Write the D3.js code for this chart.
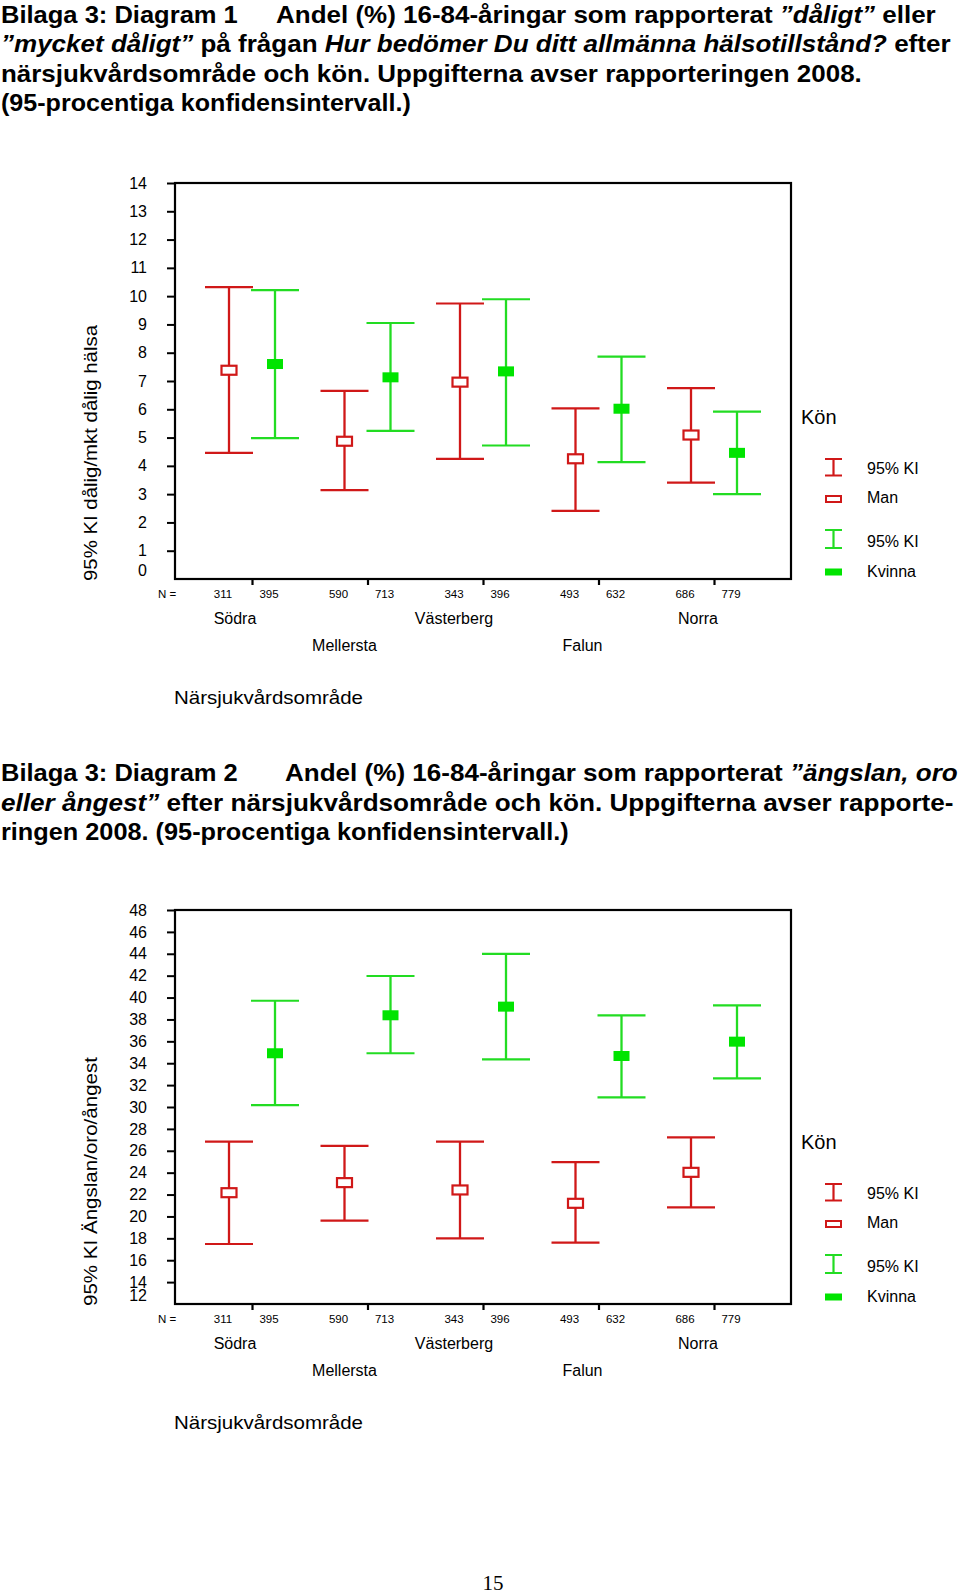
<!DOCTYPE html>
<html>
<head>
<meta charset="utf-8">
<script src="https://cdn.jsdelivr.net/npm/d3@7"></script>
<style>
  html, body { margin: 0; padding: 0; background: #fff; }
  svg { display: block; }
  text { font-family: "Liberation Sans", Arial, Helvetica, sans-serif; fill: #000; }
</style>
</head>
<body>
<script>
// ---------------- DATA ----------------
const regions = ["Södra", "Mellersta", "Västerberg", "Falun", "Norra"];
const nMan    = [311, 590, 343, 493, 686];
const nKvinna = [395, 713, 396, 632, 779];

// Diagram 1: andel dåligt/mycket dåligt hälsotillstånd (%)
const d1ManLow  = [4.46, 3.14, 4.25, 2.41, 3.41];
const d1ManMean = [7.38, 4.87, 6.96, 4.25, 5.09];
const d1ManHigh = [10.32, 6.65, 9.74, 6.03, 6.75];
const d1KvLow   = [4.98, 5.24, 4.72, 4.13, 3.00];
const d1KvMean  = [7.60, 7.13, 7.34, 6.02, 4.46];
const d1KvHigh  = [10.21, 9.05, 9.89, 7.86, 5.92];
const d1Ticks   = [0, 1, 2, 3, 4, 5, 6, 7, 8, 9, 10, 11, 12, 13, 14];

// Diagram 2: andel ängslan, oro eller ångest (%)
const d2ManLow  = [17.48, 19.61, 18.00, 17.60, 20.83];
const d2ManMean = [22.17, 23.09, 22.42, 21.20, 24.03];
const d2ManHigh = [26.83, 26.44, 26.83, 24.97, 27.23];
const d2KvLow   = [30.18, 34.91, 34.36, 30.88, 32.62];
const d2KvMean  = [34.91, 38.38, 39.17, 34.66, 35.97];
const d2KvHigh  = [39.71, 41.97, 44.00, 38.38, 39.29];
const d2Ticks   = [12, 14, 16, 18, 20, 22, 24, 26, 28, 30, 32, 34, 36, 38, 40, 42, 44, 46, 48];

const sexLabels = ["Man", "Kvinna"];
const legendTitle = "Kön";
const ciLabel = "95% KI";
const xTitle = "Närsjukvårdsområde";
const y1Title = "95% KI dålig/mkt dålig hälsa";
const y2Title = "95% KI Ängslan/oro/ångest";

// title texts: [text, italic]
const title1Head = "Bilaga 3: Diagram 1";
const title1Lines = [
  [["Andel (%) 16-84-åringar som rapporterat ", 0], ["”dåligt”", 1], [" eller", 0]],
  [["”mycket dåligt”", 1], [" på frågan ", 0], ["Hur bedömer Du ditt allmänna hälsotillstånd?", 1], [" efter", 0]],
  [["närsjukvårdsområde och kön. Uppgifterna avser rapporteringen 2008.", 0]],
  [["(95-procentiga konfidensintervall.)", 0]]
];
const title2Head = "Bilaga 3: Diagram 2";
const title2Lines = [
  [["Andel (%) 16-84-åringar som rapporterat ", 0], ["”ängslan, oro", 1]],
  [["eller ångest”", 1], [" efter närsjukvårdsområde och kön. Uppgifterna avser rapporte-", 0]],
  [["ringen 2008. (95-procentiga konfidensintervall.)", 0]]
];
const pageNumber = "15";

// ---------------- STYLE / LAYOUT ----------------
const RED = "#d01818";
const GREEN = "#22dc22";
const GREEN_FILL = "#00e400";
const regionLabelNudge = [6, 0, -6, 7, 7];   // small horizontal shifts of region names (px)

const svg = d3.select("body").append("svg").attr("width", 960).attr("height", 1594);

// fit a (possibly multi-tspan) text horizontally into target width
function fitGroup(g, x, target) {
  const w = g.node().getBBox().width;
  const y = +g.attr("data-y");
  g.attr("transform", `translate(${x},${y}) scale(${target / w},1)`);
}

function titleBlock(head, lines, layout) {
  const gh = svg.append("g").attr("data-y", layout.base[0]);
  gh.append("text").attr("x", 0).attr("y", 0)
    .style("font-size", "23.5px").style("font-weight", "bold").text(head);
  fitGroup(gh, layout.headX, layout.headW);
  lines.forEach((segs, i) => {
    const g = svg.append("g").attr("data-y", layout.base[i]);
    const t = g.append("text").attr("x", 0).attr("y", 0)
      .style("font-size", "23.5px").style("font-weight", "bold");
    segs.forEach(s => {
      t.append("tspan").style("font-style", s[1] ? "italic" : "normal").text(s[0]);
    });
    fitGroup(g, layout.x[i], layout.w[i]);
  });
}

titleBlock(title1Head, title1Lines, {
  headX: 1, headW: 237,
  base: [22.7, 52.2, 81.7, 111.2],
  x: [276, 1, 1, 1],
  w: [660, 950, 861, 410]
});
titleBlock(title2Head, title2Lines, {
  headX: 1, headW: 237,
  base: [781.3, 810.8, 840.3],
  x: [285, 1, 1],
  w: [673, 953, 568]
});

// ---------------- CHART ----------------
const plotLeft = 175, plotRight = 791;
const xMid = d3.scalePoint().domain(regions).range([252, 714]);
const sexOffset = d3.scalePoint().domain(sexLabels).range([-23, 23]);

function drawChart(cfg) {
  const g = svg.append("g");
  const y = d3.scaleLinear().domain(cfg.domain).range([cfg.bottom, cfg.top]);

  // left axis ticks + labels
  const ax = g.append("g").attr("transform", `translate(${plotLeft},0)`)
    .call(d3.axisLeft(y).tickValues(cfg.ticks).tickSize(8).tickPadding(20).tickFormat(d3.format("d")));
  ax.select(".domain").remove();
  ax.selectAll(".tick line").attr("stroke", "#000").attr("stroke-width", 2);
  ax.selectAll(".tick text").style("font-size", "16px")
    .style("font-family", "'Liberation Sans', Arial, sans-serif");
  ax.selectAll(".tick").filter(d => d === cfg.domain[0]).select("text")
    .attr("transform", "translate(0,-9)");
  ax.selectAll(".tick").filter(d => d === cfg.domain[0]).select("line").remove();

  // bottom ticks
  const bx = g.append("g").attr("transform", `translate(0,${cfg.bottom})`)
    .call(d3.axisBottom(xMid).tickSize(6).tickFormat(""));
  bx.select(".domain").remove();
  bx.selectAll(".tick line").attr("stroke", "#000").attr("stroke-width", 2.2);

  // frame
  g.append("rect").attr("x", plotLeft).attr("y", cfg.top)
    .attr("width", plotRight - plotLeft).attr("height", cfg.bottom - cfg.top)
    .attr("fill", "none").attr("stroke", "#000").attr("stroke-width", 2.2);

  // series
  const series = [
    { sex: "Man", low: cfg.manLow, mean: cfg.manMean, high: cfg.manHigh, color: RED },
    { sex: "Kvinna", low: cfg.kvLow, mean: cfg.kvMean, high: cfg.kvHigh, color: GREEN }
  ];
  series.forEach(s => {
    const pts = regions.map((r, i) => ({
      x: xMid(r) + sexOffset(s.sex), lo: s.low[i], m: s.mean[i], hi: s.high[i]
    }));
    const eg = g.append("g").selectAll("g").data(pts).join("g");
    eg.append("line").attr("x1", d => d.x).attr("x2", d => d.x)
      .attr("y1", d => y(d.lo)).attr("y2", d => y(d.hi))
      .attr("stroke", s.color).attr("stroke-width", 2.3);
    eg.append("line").attr("x1", d => d.x - 24).attr("x2", d => d.x + 24)
      .attr("y1", d => y(d.hi)).attr("y2", d => y(d.hi))
      .attr("stroke", s.color).attr("stroke-width", 2.2);
    eg.append("line").attr("x1", d => d.x - 24).attr("x2", d => d.x + 24)
      .attr("y1", d => y(d.lo)).attr("y2", d => y(d.lo))
      .attr("stroke", s.color).attr("stroke-width", 2.2);
    if (s.sex === "Man") {
      eg.append("rect").attr("x", d => d.x - 7.5).attr("y", d => y(d.m) - 4.5)
        .attr("width", 15).attr("height", 9)
        .attr("fill", "#fff").attr("stroke", RED).attr("stroke-width", 2.2);
    } else {
      eg.append("rect").attr("x", d => d.x - 8).attr("y", d => y(d.m) - 5)
        .attr("width", 16).attr("height", 10).attr("fill", GREEN_FILL);
    }
  });

  // N labels
  const b = cfg.bottom;
  g.append("text").attr("x", 167).attr("y", b + 15).attr("dy", "0.35em")
    .attr("text-anchor", "middle").style("font-size", "11.5px").text("N =");
  regions.forEach((r, i) => {
    g.append("text").attr("x", xMid(r) + sexOffset("Man") - 6).attr("y", b + 15).attr("dy", "0.35em")
      .attr("text-anchor", "middle").style("font-size", "11.5px").text(nMan[i]);
    g.append("text").attr("x", xMid(r) + sexOffset("Kvinna") - 6).attr("y", b + 15).attr("dy", "0.35em")
      .attr("text-anchor", "middle").style("font-size", "11.5px").text(nKvinna[i]);
    g.append("text").attr("x", xMid(r) + sexOffset("Man") + regionLabelNudge[i])
      .attr("y", b + (i % 2 === 0 ? 39 : 66)).attr("dy", "0.35em")
      .attr("text-anchor", "middle").style("font-size", "16px").text(r);
  });

  // x title
  g.append("text").attr("x", 174).attr("y", b + 118).attr("dy", "0.35em")
    .style("font-size", "19px").attr("textLength", 189).attr("lengthAdjust", "spacingAndGlyphs")
    .text(xTitle);

  // y title
  g.append("text").attr("transform", `translate(97,${b + 2}) rotate(-90)`)
    .style("font-size", "19px").attr("textLength", cfg.yTitleLen).attr("lengthAdjust", "spacingAndGlyphs")
    .text(cfg.yTitle);

  // legend
  const lx = 833.5;
  g.append("text").attr("x", 801).attr("y", b - 162).attr("dy", "0.35em")
    .style("font-size", "20px").text(legendTitle);
  const legItems = [
    { color: RED, top: b - 120, bot: b - 103.5, ci: b - 110.7, mk: b - 80, lbl: b - 81.3, sex: "Man" },
    { color: GREEN, top: b - 49, bot: b - 31, ci: b - 37.5, mk: b - 7, lbl: b - 7.5, sex: "Kvinna" }
  ];
  legItems.forEach(it => {
    g.append("line").attr("x1", lx).attr("x2", lx).attr("y1", it.top).attr("y2", it.bot)
      .attr("stroke", it.color).attr("stroke-width", 2.2);
    [it.top, it.bot].forEach(yy => g.append("line").attr("x1", lx - 8.5).attr("x2", lx + 8.5)
      .attr("y1", yy).attr("y2", yy).attr("stroke", it.color).attr("stroke-width", 2));
    g.append("text").attr("x", 867).attr("y", it.ci).attr("dy", "0.35em")
      .style("font-size", "16px").text(ciLabel);
    if (it.sex === "Man") {
      g.append("rect").attr("x", lx - 7.5).attr("y", it.mk - 3).attr("width", 15).attr("height", 6)
        .attr("fill", "#fff").attr("stroke", RED).attr("stroke-width", 2);
    } else {
      g.append("rect").attr("x", lx - 8.5).attr("y", it.mk - 3.5).attr("width", 17).attr("height", 7)
        .attr("fill", GREEN_FILL);
    }
    g.append("text").attr("x", 867).attr("y", it.lbl).attr("dy", "0.35em")
      .style("font-size", "16px").text(it.sex);
  });
}

drawChart({
  top: 183, bottom: 579, domain: [0, 14], ticks: d1Ticks, yTitle: y1Title, yTitleLen: 256,
  manLow: d1ManLow, manMean: d1ManMean, manHigh: d1ManHigh,
  kvLow: d1KvLow, kvMean: d1KvMean, kvHigh: d1KvHigh
});
drawChart({
  top: 910, bottom: 1304, domain: [12, 48], ticks: d2Ticks, yTitle: y2Title, yTitleLen: 249,
  manLow: d2ManLow, manMean: d2ManMean, manHigh: d2ManHigh,
  kvLow: d2KvLow, kvMean: d2KvMean, kvHigh: d2KvHigh
});

// page number
svg.append("text").attr("x", 493).attr("y", 1590).attr("text-anchor", "middle")
  .style("font-family", "'Liberation Serif', 'Times New Roman', serif").style("font-size", "21px")
  .text(pageNumber);
</script>
</body>
</html>
